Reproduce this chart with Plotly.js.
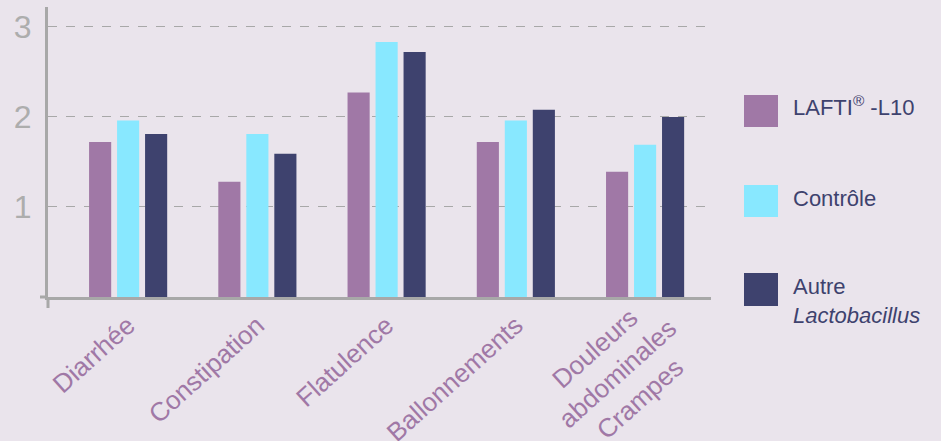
<!DOCTYPE html>
<html>
<head>
<meta charset="utf-8">
<script src="https://cdn.plot.ly/plotly-3.0.1.min.js"></script>
<style>
html,body{margin:0;padding:0;background:#EAE4EC;}
#chart{width:941px;height:441px;}
</style>
</head>
<body>
<div id="chart"></div>
<script>
var categories = ["Diarrhée", "Constipation", "Flatulence", "Ballonnements", "Douleurs<br>abdominales<br>Crampes"];
var seriesNames = ["LAFTI<sup>®</sup> -L10", "Contrôle", "Autre<br><i>Lactobacillus</i>"];
var lafti = [1.72, 1.28, 2.27, 1.72, 1.39];
var controle = [1.96, 1.81, 2.83, 1.96, 1.69];
var autre = [1.81, 1.59, 2.72, 2.08, 2.00];
var yTickVals = [1, 2, 3];
var colors = ["#A078A6", "#88E8FF", "#3E426E"];

var values = [lafti, controle, autre];
var traces = values.map(function(v, i){
  return {type:"bar", x:categories, y:v, name:seriesNames[i], marker:{color:colors[i]}, showlegend:false, hoverinfo:"none"};
});

var plotL = 48, plotR = 711, plotT = 7, plotB = 297, W = 941, H = 441;
function px(x){ return (x - plotL)/(plotR - plotL); }
function py(y){ return (plotB - y)/(plotB - plotT); }
var tickFont = {family:"Liberation Sans, Arial, sans-serif", size:26, color:"#A078A6"};

// Tick labels: the multi-line last label is drawn as a centred annotation below its tick
var lastIdx = categories.length - 1;
var tickText = categories.map(function(c, i){ return i === lastIdx ? "" : c; });

var legendBoxes = [[95,127],[185,217],[273,306]];
var legendTextY = [106, 198, 301];
var shapes = [];
var annotations = [];
legendBoxes.forEach(function(b, i){
  shapes.push({type:"rect", xref:"paper", yref:"paper", x0:px(744), x1:px(778), y0:py(b[1]), y1:py(b[0]), fillcolor:colors[i], line:{width:0}});
  annotations.push({xref:"paper", yref:"paper", x:px(791), y:py(legendTextY[i]), xanchor:"left", yanchor:"middle", align:"left", showarrow:false, text:seriesNames[i], font:{family:"Liberation Sans, Arial, sans-serif", size:22, color:"#3E426E"}});
});
annotations.push({xref:"x", yref:"paper", x:categories[lastIdx], y:py(374), xshift:-28, xanchor:"center", yanchor:"middle", align:"center", textangle:-42, showarrow:false, text:categories[lastIdx], font:tickFont});

shapes.push({type:"line", xref:"paper", yref:"paper", x0:px(48), x1:px(48), y0:py(297), y1:py(308), line:{color:"#A8A8A8", width:3}});
shapes.push({type:"line", xref:"paper", yref:"paper", x0:px(40), x1:px(48), y0:py(297), y1:py(297), line:{color:"#A8A8A8", width:3}});

var layout = {
  width: W, height: H,
  paper_bgcolor:"#EAE4EC", plot_bgcolor:"#EAE4EC",
  margin:{l:plotL, r:W-plotR, t:plotT, b:H-plotB},
  barmode:"group", bargap:0.35, bargroupgap:0.21,
  font:{family:"Liberation Sans, Arial, sans-serif"},
  xaxis:{
    type:"category", range:[-0.62, 4.51],
    showline:true, linecolor:"#A8A8A8", linewidth:3,
    showgrid:false, zeroline:false, ticks:"",
    tickmode:"array", tickvals:categories, ticktext:tickText,
    tickangle:-42,
    tickfont:tickFont
  },
  yaxis:{
    range:[0, 3.22],
    showline:true, linecolor:"#A8A8A8", linewidth:3,
    showgrid:true, gridcolor:"#A8A8A8", griddash:"dash", gridwidth:1,
    zeroline:false, ticks:"",
    tickvals:yTickVals, ticktext:yTickVals.map(String),
    tickfont:{family:"Liberation Sans, Arial, sans-serif", size:32, color:"#ADADAD"},
    ticklabelstandoff:7
  },
  shapes:shapes,
  annotations:annotations
};
Plotly.newPlot("chart", traces, layout, {displayModeBar:false, staticPlot:true});
</script>
</body>
</html>
